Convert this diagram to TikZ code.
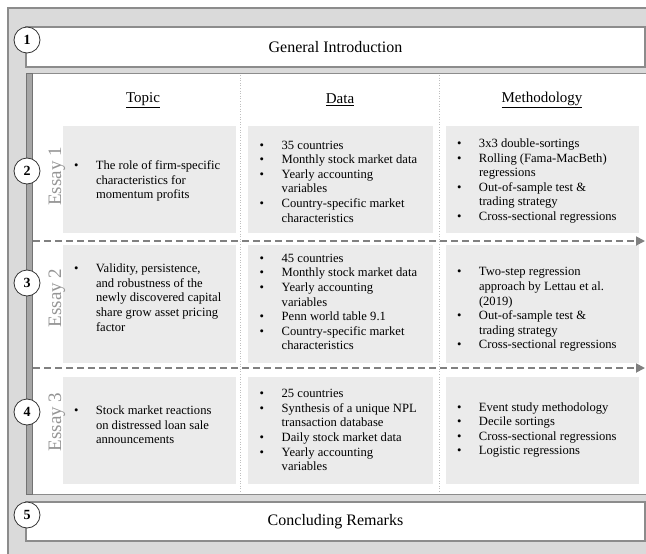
\documentclass[tikz,border=0pt]{standalone}
\usepackage{fontspec}
\setmainfont{Liberation Serif}
\usetikzlibrary{arrows.meta}
\definecolor{bggray}{HTML}{DADADA}
\definecolor{framegray}{HTML}{8C8C8C}
\definecolor{bargray}{HTML}{A6A6A6}
\definecolor{cellgray}{HTML}{EBEBEB}
\definecolor{essaygray}{HTML}{959595}
\definecolor{arrowgray}{HTML}{808080}
\tikzset{
  titlebox/.style={rectangle, draw=framegray, line width=1.2pt, fill=white, minimum width=619pt, inner sep=0pt, font=\fontsize{16}{19}\selectfont},
  numcircle/.style={circle, draw=black!80, line width=0.8pt, fill=white, minimum size=26pt, inner sep=0pt, font=\fontsize{14}{16}\selectfont\bfseries},
  cell/.style={rectangle, fill=cellgray, inner sep=0pt},
  celltext/.style={anchor=west, align=left, inner sep=0pt, font=\fontsize{12.6}{14.6}\selectfont},
  header/.style={inner sep=0pt, font=\fontsize{15}{18}\selectfont},
  essay/.style={rotate=90, text=essaygray, inner sep=0pt, font=\fontsize{19}{22}\selectfont},
  sepline/.style={arrowgray, line width=1.8pt, dash pattern=on 7pt off 4pt, -{Triangle[length=9pt,width=9pt]}},
  colline/.style={black!25, line width=0.6pt, dotted},
  bar/.style={fill=bargray, draw=black!55, line width=0.6pt}
}
\newcommand{\bul}{\makebox[22pt][l]{\textbullet}}
\newcommand{\ind}{\hspace*{22pt}}

\begin{document}
\begin{tikzpicture}[x=1pt,y=-1pt]

    \useasboundingbox (0,0) rectangle (646,554);
    \clip (0,0) rectangle (646,554);

    % Frame and background
    \draw[framegray, line width=1.2pt, fill=bggray] (8,8) rectangle (680,580);
    \draw[framegray, line width=1pt, fill=white] (26,73) rectangle (680,494);
    \draw[bar] (26,73) rectangle (32.5,494);
    \draw[bar] (26,45) rectangle (32,67);
    \draw[bar] (26,520) rectangle (32,541);

    % Intro and conclusion
    \node (intro) [titlebox, minimum height=40pt] at (335.5,47) {General Introduction};
    \node (concl) [titlebox, minimum height=39pt] at (335.5,521.5) {Concluding Remarks};

    % Column headers and separators
    \node (topic) [header] at (143,100) {\underline{Topic}};
    \node (data) [header] at (340,100) {\underline{Data}};
    \node (method) [header] at (542,100) {\underline{Methodology}};
    \draw[colline] (240,75) -- (240,493);
    \draw[colline] (439,75) -- (439,493);

    % Cells
    \node (t1) [cell, minimum width=173pt, minimum height=107pt] at (149.5,179.5) {};
    \node (d1) [cell, minimum width=185pt, minimum height=107pt] at (340.5,179.5) {};
    \node (m1) [cell, minimum width=193pt, minimum height=107pt] at (542.5,179.5) {};
    \node (t2) [cell, minimum width=173pt, minimum height=118pt] at (149.5,304) {};
    \node (d2) [cell, minimum width=185pt, minimum height=118pt] at (340.5,304) {};
    \node (m2) [cell, minimum width=193pt, minimum height=118pt] at (542.5,304) {};
    \node (t3) [cell, minimum width=173pt, minimum height=107pt] at (149.5,430.5) {};
    \node (d3) [cell, minimum width=185pt, minimum height=107pt] at (340.5,430.5) {};
    \node (m3) [cell, minimum width=193pt, minimum height=107pt] at (542.5,430.5) {};

    % Essay 1
    \node (t1txt) [celltext] at (73.8,181) {\bul The role of firm-specific\\ \ind characteristics for\\ \ind momentum profits};
    \node (d1txt) [celltext] at (259.5,181.5) {\bul 35 countries\\ \bul Monthly stock market data\\ \bul Yearly accounting\\ \ind variables\\ \bul Country-specific market\\ \ind characteristics};
    \node (m1txt) [celltext] at (456.8,181) {\bul 3x3 double-sortings\\ \bul Rolling (Fama-MacBeth)\\ \ind regressions\\ \bul Out-of-sample test \&\\ \ind trading strategy\\ \bul Cross-sectional regressions};

    % Essay 2
    \node (t2txt) [celltext] at (73.8,297.5) {\bul Validity, persistence,\\ \ind and robustness of the\\ \ind newly discovered capital\\ \ind share grow asset pricing\\ \ind factor};
    \node (d2txt) [celltext] at (259.5,302) {\bul 45 countries\\ \bul Monthly stock market data\\ \bul Yearly accounting\\ \ind variables\\ \bul Penn world table 9.1\\ \bul Country-specific market\\ \ind characteristics};
    \node (m2txt) [celltext] at (456.8,309.5) {\bul Two-step regression\\ \ind approach by Lettau et al.\\ \ind (2019)\\ \bul Out-of-sample test \&\\ \ind trading strategy\\ \bul Cross-sectional regressions};

    % Essay 3
    \node (t3txt) [celltext] at (73.8,425) {\bul Stock market reactions\\ \ind on distressed loan sale\\ \ind announcements};
    \node (d3txt) [celltext] at (259.5,430) {\bul 25 countries\\ \bul Synthesis of a unique NPL\\ \ind transaction database\\ \bul Daily stock market data\\ \bul Yearly accounting\\ \ind variables};
    \node (m3txt) [celltext] at (456.8,430) {\bul Event study methodology\\ \bul Decile sortings\\ \bul Cross-sectional regressions\\ \bul Logistic regressions};

    % Essay labels
    \node (e1) [essay] at (57,176.5) {Essay 1};
    \node (e2) [essay] at (57,298) {Essay 2};
    \node (e3) [essay] at (57,422) {Essay 3};

    % Separators between essays
    \coordinate (s1a) at (33,241);
    \coordinate (s1b) at (645,241);
    \coordinate (s2a) at (33,368);
    \coordinate (s2b) at (645,368);
    \draw[sepline] (s1a) -- (s1b);
    \draw[sepline] (s2a) -- (s2b);

    % Numbered circles
    \node (n1) [numcircle] at (27,40) {1};
    \node (n2) [numcircle] at (27,171) {2};
    \node (n3) [numcircle] at (27,283) {3};
    \node (n4) [numcircle] at (27,412) {4};
    \node (n5) [numcircle] at (27,515) {5};

\end{tikzpicture}
\end{document}
